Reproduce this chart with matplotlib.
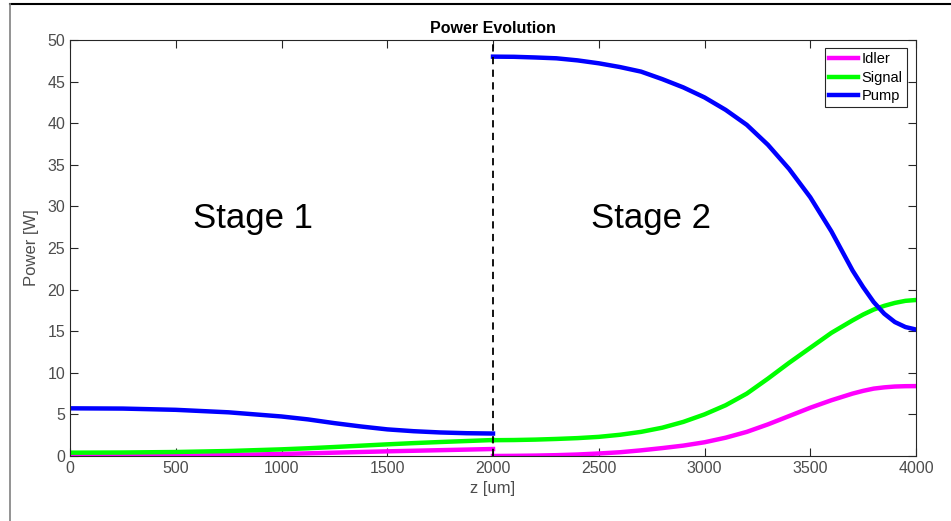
import numpy as np
import matplotlib.pyplot as plt
from matplotlib.lines import Line2D

plt.rcParams['font.family'] = ['Liberation Sans', 'DejaVu Sans']

# Stage 1 (0 - 2000 um)
z1 = [0, 250, 500, 750, 1000, 1125, 1250, 1375, 1500, 1625, 1750, 1875, 2000]
pump1 = [5.73, 5.7, 5.55, 5.25, 4.75, 4.4, 3.95, 3.55, 3.2, 2.98, 2.83, 2.74, 2.7]
signal1 = [0.4, 0.42, 0.48, 0.6, 0.8, 0.93, 1.08, 1.24, 1.4, 1.55, 1.68, 1.8, 1.92]
idler1 = [0.0, 0.01, 0.03, 0.12, 0.24, 0.32, 0.4, 0.48, 0.56, 0.63, 0.7, 0.77, 0.84]

# Stage 2 (2000 - 4000 um)
z2 = [2000, 2100, 2200, 2300, 2400, 2500, 2600, 2700, 2800, 2900, 3000, 3100,
      3200, 3300, 3400, 3500, 3600, 3700, 3750, 3800, 3850, 3900, 3950, 4000]
pump2 = [48.0, 47.98, 47.9, 47.8, 47.55, 47.2, 46.75, 46.2, 45.3, 44.3, 43.1, 41.6,
         39.8, 37.4, 34.5, 31.1, 27.0, 22.3, 20.3, 18.5, 17.1, 16.1, 15.5, 15.2]
signal2 = [1.9, 1.92, 1.97, 2.05, 2.15, 2.3, 2.55, 2.9, 3.4, 4.1, 5.0, 6.1,
           7.5, 9.3, 11.2, 13.0, 14.8, 16.3, 17.0, 17.6, 18.05, 18.4, 18.65, 18.75]
idler2 = [0.0, 0.02, 0.05, 0.1, 0.18, 0.3, 0.45, 0.68, 0.95, 1.25, 1.65, 2.2,
          2.9, 3.8, 4.8, 5.8, 6.7, 7.5, 7.83, 8.1, 8.25, 8.35, 8.39, 8.4]

boundary = 2000
lw = 3.2
c_idler, c_signal, c_pump = '#ff00ff', '#00ff00', '#0000ff'
gray = '#4d4d4d'

fig = plt.figure(figsize=(9.51, 5.21), dpi=100)
ax = fig.add_axes([70/951, 1 - 456/521, 846/951, 416/521])

ax.plot(z1, idler1, color=c_idler, lw=lw, label='Idler')
ax.plot(z1, signal1, color=c_signal, lw=lw, label='Signal')
ax.plot(z1, pump1, color=c_pump, lw=lw, label='Pump')
ax.plot(z2, idler2, color=c_idler, lw=lw)
ax.plot(z2, signal2, color=c_signal, lw=lw)
ax.plot(z2, pump2, color=c_pump, lw=lw)
ax.plot([boundary, boundary], [0, 50], color='black', lw=1.3, ls=(0, (4, 3)))

ax.set_xlim(0, 4000)
ax.set_ylim(0, 50)
ax.set_xticks(np.arange(0, 4001, 500))
ax.set_yticks(np.arange(0, 51, 5))
ax.tick_params(direction='in', top=True, right=True, labelsize=11.5,
               colors='#262626', labelcolor=gray, length=6, width=0.8)
for s in ax.spines.values():
    s.set_color('#262626')
    s.set_linewidth(0.8)

ax.set_title('Power Evolution', fontsize=11.5, fontweight='bold', pad=5)
ax.set_xlabel('z [um]', fontsize=12, color=gray, labelpad=4)
ax.set_ylabel('Power [W]', fontsize=12, color=gray, labelpad=6)

ax.text(865, 28.6, 'Stage 1', fontsize=25, ha='center', va='center')
ax.text(2745, 28.6, 'Stage 2', fontsize=25, ha='center', va='center')

leg = ax.legend(loc='upper right', bbox_to_anchor=(0.989, 0.981), fontsize=10.5,
                fancybox=False, framealpha=1, edgecolor='#262626',
                handlelength=2.0, handletextpad=0.2, labelspacing=0.3,
                borderpad=0.3, borderaxespad=0)
leg.get_frame().set_linewidth(0.8)

# screenshot frame
fig.add_artist(Line2D([10/951, 1], [1 - 4/521, 1 - 4/521], color='black', lw=1.5))
fig.add_artist(Line2D([10/951, 10/951], [0, 1 - 4/521], color='#808080', lw=1.2))

fig.savefig('out.png', dpi=100)
